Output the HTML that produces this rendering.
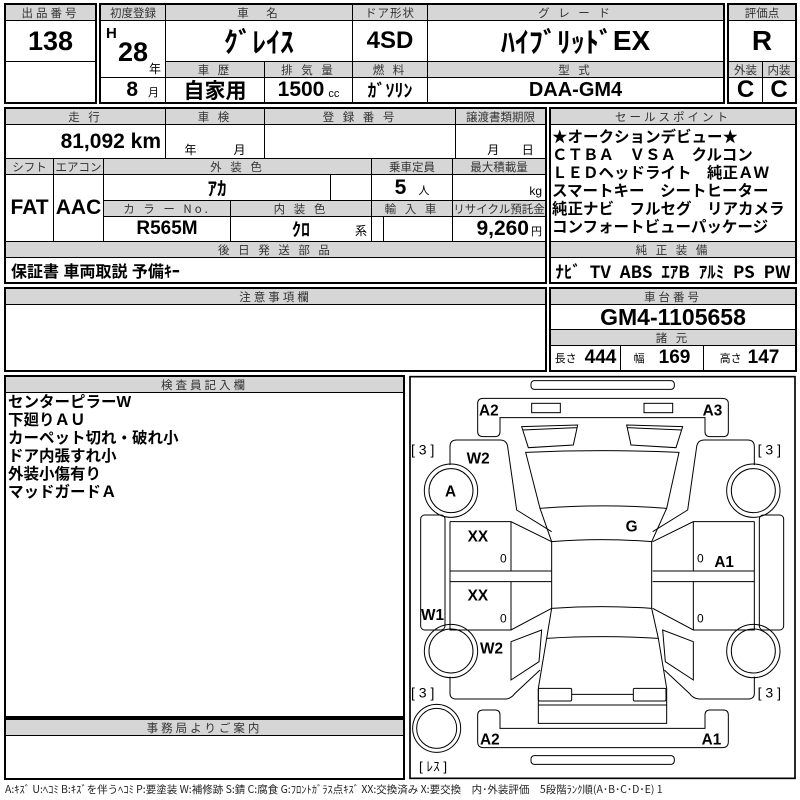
<!DOCTYPE html>
<html><head><meta charset="utf-8">
<style>
*{margin:0;padding:0;box-sizing:border-box}
body{width:800px;height:800px;background:#fff;position:relative;overflow:hidden;font-family:"Liberation Sans","Noto Sans CJK JP",sans-serif;color:#000}
.c{position:absolute;border:1px solid #000;display:flex;align-items:center;justify-content:center;white-space:nowrap;overflow:hidden}
.h{background:#d6d6d6;font-size:11.5px;letter-spacing:3px;color:#333;font-family:"Noto Sans CJK JP",sans-serif}
.v{font-family:"Liberation Sans Narrow","Liberation Sans","Noto Sans CJK JP",sans-serif;font-weight:bold;font-size:21px}
.j{font-family:"Noto Sans CJK JP",sans-serif;font-weight:bold}
.box{position:absolute;border:2px solid #000}
.t{position:absolute;white-space:nowrap;font-family:"Liberation Sans","Noto Sans CJK JP",sans-serif;font-weight:bold;font-size:15.5px;line-height:18px}
.s{font-size:11px;font-weight:normal;margin-left:4px;align-self:flex-end;margin-bottom:2px}
</style></head><body>

<div class="box" style="left:4px;top:3px;width:93px;height:101px"></div>
<div class="c h" style="left:5px;top:4px;width:91px;height:17px">出品番号</div>
<div class="c v" style="left:5px;top:20px;width:91px;height:42px;font-size:27px">138</div>
<div class="c" style="left:5px;top:61px;width:91px;height:42px"></div>

<div class="box" style="left:99px;top:3px;width:626px;height:101px"></div>
<div class="c h" style="left:100px;top:4px;width:66px;height:17px;letter-spacing:0">初度登録</div>
<div class="c h" style="left:165px;top:4px;width:188px;height:17px">車　名</div>
<div class="c h" style="left:352px;top:4px;width:76px;height:17px;letter-spacing:1px">ドア形状</div>
<div class="c h" style="left:427px;top:4px;width:297px;height:17px">グ レ ー ド</div>
<div class="c v" style="left:100px;top:20px;width:66px;height:58px"><span style="position:absolute;left:5px;top:4px;font-size:15px">H</span><span style="font-size:27px;margin-top:6px">28</span><span style="position:absolute;right:4px;bottom:0;font-size:12px;font-weight:normal">年</span></div>
<div class="c v" style="left:100px;top:77px;width:66px;height:26px;justify-content:flex-end;padding-right:6px">8<span class="s" style="margin-left:10px">月</span></div>
<div class="c j" style="left:165px;top:20px;width:188px;height:42px;font-size:28px">ｸﾞﾚｲｽ</div>
<div class="c v" style="left:352px;top:20px;width:76px;height:42px;font-size:24px">4SD</div>
<div class="c j" style="left:427px;top:20px;width:297px;height:42px;font-size:28px">ﾊｲﾌﾞﾘｯﾄﾞ<span style="font-family:'Liberation Sans',sans-serif">EX</span></div>
<div class="c h" style="left:165px;top:61px;width:100px;height:17px">車 歴</div>
<div class="c h" style="left:264px;top:61px;width:89px;height:17px">排 気 量</div>
<div class="c h" style="left:352px;top:61px;width:76px;height:17px">燃 料</div>
<div class="c h" style="left:427px;top:61px;width:297px;height:17px">型 式</div>
<div class="c" style="left:165px;top:77px;width:100px;height:26px;font-size:21px;font-family:'Noto Sans CJK JP',sans-serif;font-weight:bold">自家用</div>
<div class="c v" style="left:264px;top:77px;width:89px;height:26px">1500<span class="s">cc</span></div>
<div class="c j" style="left:352px;top:77px;width:76px;height:26px;font-size:18px">ｶﾞｿﾘﾝ</div>
<div class="c v" style="left:427px;top:77px;width:297px;height:26px;font-size:20px">DAA-GM4</div>

<div class="box" style="left:727px;top:3px;width:70px;height:101px"></div>
<div class="c h" style="left:728px;top:4px;width:68px;height:17px;letter-spacing:0">評価点</div>
<div class="c v" style="left:728px;top:20px;width:68px;height:42px;font-size:28px">R</div>
<div class="c h" style="left:728px;top:61px;width:35px;height:17px;letter-spacing:0">外装</div>
<div class="c h" style="left:762px;top:61px;width:34px;height:17px;letter-spacing:0">内装</div>
<div class="c v" style="left:728px;top:77px;width:35px;height:26px;font-size:24px">C</div>
<div class="c v" style="left:762px;top:77px;width:34px;height:26px;font-size:24px">C</div>

<div class="box" style="left:4px;top:107px;width:543px;height:177px"></div>
<div class="c h" style="left:5px;top:108px;width:161px;height:17px">走 行</div>
<div class="c h" style="left:165px;top:108px;width:100px;height:17px">車 検</div>
<div class="c h" style="left:264px;top:108px;width:192px;height:17px">登 録 番 号</div>
<div class="c h" style="left:455px;top:108px;width:91px;height:17px;letter-spacing:0">譲渡書類期限</div>
<div class="c v" style="left:5px;top:124px;width:161px;height:35px;justify-content:flex-end;padding-right:4px">81,092 km</div>
<div class="c" style="left:165px;top:124px;width:100px;height:35px;font-size:12px;align-items:flex-end;justify-content:space-around">年<span>月</span></div>
<div class="c" style="left:264px;top:124px;width:192px;height:35px"></div>
<div class="c" style="left:455px;top:124px;width:91px;height:35px;font-size:12px;align-items:flex-end;justify-content:space-around;padding-left:20px">月<span>日</span></div>
<div class="c h" style="left:5px;top:158px;width:49px;height:17px;letter-spacing:0">シフト</div>
<div class="c h" style="left:53px;top:158px;width:51px;height:17px;letter-spacing:0">エアコン</div>
<div class="c h" style="left:103px;top:158px;width:269px;height:17px">外 装 色</div>
<div class="c h" style="left:371px;top:158px;width:82px;height:17px;letter-spacing:0">乗車定員</div>
<div class="c h" style="left:452px;top:158px;width:94px;height:17px;letter-spacing:0">最大積載量</div>
<div class="c v" style="left:5px;top:174px;width:49px;height:68px">FAT</div>
<div class="c v" style="left:53px;top:174px;width:51px;height:68px">AAC</div>
<div class="c j" style="left:103px;top:174px;width:228px;height:27px;font-size:19px">ｱｶ</div>
<div class="c" style="left:330px;top:174px;width:42px;height:27px"></div>
<div class="c v" style="left:371px;top:174px;width:82px;height:27px">5<span class="s" style="margin-left:12px">人</span></div>
<div class="c" style="left:452px;top:174px;width:94px;height:27px;justify-content:flex-end;align-items:flex-end;padding:0 3px 2px 0;font-size:12px">kg</div>
<div class="c h" style="left:103px;top:200px;width:128px;height:17px">カ ラ ー No.</div>
<div class="c h" style="left:230px;top:200px;width:142px;height:17px">内 装 色</div>
<div class="c h" style="left:371px;top:200px;width:82px;height:17px">輸 入 車</div>
<div class="c h" style="left:452px;top:200px;width:94px;height:17px;letter-spacing:0">リサイクル預託金</div>
<div class="c v" style="left:103px;top:216px;width:128px;height:26px;font-size:19px">R565M</div>
<div class="c j" style="left:230px;top:216px;width:142px;height:26px;font-size:18px">ｸﾛ<span style="position:absolute;right:4px;bottom:2px;font-size:12px;font-weight:normal">系</span></div>
<div class="c" style="left:371px;top:216px;width:13px;height:26px"></div>
<div class="c" style="left:383px;top:216px;width:70px;height:26px"></div>
<div class="c v" style="left:452px;top:216px;width:94px;height:26px;justify-content:flex-end;padding-right:3px">9,260<span class="s" style="margin-left:2px">円</span></div>
<div class="c h" style="left:5px;top:241px;width:541px;height:17px">後 日 発 送 部 品</div>
<div class="c" style="left:5px;top:257px;width:541px;height:26px;justify-content:flex-start;padding-left:5px;font-weight:bold;font-size:16px">保証書 車両取説 予備ｷｰ</div>

<div class="box" style="left:549px;top:107px;width:248px;height:177px"></div>
<div class="c h" style="left:550px;top:108px;width:246px;height:17px">セールスポイント</div>
<div class="c" style="left:550px;top:124px;width:246px;height:118px"></div>
<div class="t" style="left:552px;top:129px">★オークションデビュー★</div>
<div class="t" style="left:552px;top:147px">ＣＴＢＡ　ＶＳＡ　クルコン</div>
<div class="t" style="left:552px;top:165px">ＬＥＤヘッドライト　純正ＡＷ</div>
<div class="t" style="left:552px;top:183px">スマートキー　シートヒーター</div>
<div class="t" style="left:552px;top:201px">純正ナビ　フルセグ　リアカメラ</div>
<div class="t" style="left:552px;top:219px">コンフォートビューパッケージ</div>
<div class="c h" style="left:550px;top:241px;width:246px;height:17px">純 正 装 備</div>
<div class="c j" style="left:550px;top:257px;width:246px;height:26px;font-size:17px;justify-content:space-around">ﾅﾋﾞ<span>TV</span><span>ABS</span><span>ｴｱB</span><span>ｱﾙﾐ</span><span>PS</span><span>PW</span></div>

<div class="box" style="left:4px;top:287px;width:543px;height:85px"></div>
<div class="c h" style="left:5px;top:288px;width:541px;height:17px">注意事項欄</div>
<div class="box" style="left:549px;top:287px;width:248px;height:85px"></div>
<div class="c h" style="left:550px;top:288px;width:246px;height:17px">車台番号</div>
<div class="c v" style="left:550px;top:304px;width:246px;height:26px;font-size:23px">GM4-1105658</div>
<div class="c h" style="left:550px;top:329px;width:246px;height:17px">諸 元</div>
<div class="c v" style="left:550px;top:345px;width:71px;height:26px;font-size:19px"><span style="font-size:11px;font-weight:normal;margin-right:8px">長さ</span>444</div>
<div class="c v" style="left:620px;top:345px;width:84px;height:26px;font-size:19px"><span style="font-size:11px;font-weight:normal;margin-right:14px">幅</span>169</div>
<div class="c v" style="left:703px;top:345px;width:93px;height:26px;font-size:19px"><span style="font-size:11px;font-weight:normal;margin-right:6px">高さ</span>147</div>

<div class="box" style="left:4px;top:375px;width:401px;height:343px"></div>
<div class="c h" style="left:5px;top:376px;width:399px;height:17px">検査員記入欄</div>
<div class="t" style="left:8px;top:394px">センターピラーW</div>
<div class="t" style="left:8px;top:412px">下廻りＡＵ</div>
<div class="t" style="left:8px;top:430px">カーペット切れ・破れ小</div>
<div class="t" style="left:8px;top:448px">ドア内張すれ小</div>
<div class="t" style="left:8px;top:466px">外装小傷有り</div>
<div class="t" style="left:8px;top:484px">マッドガードＡ</div>

<div class="box" style="left:4px;top:718px;width:401px;height:62px"></div>
<div class="c h" style="left:5px;top:719px;width:399px;height:17px">事務局よりご案内</div>

<svg style="position:absolute;left:405px;top:375px" width="395" height="410" viewBox="0 0 1185 1230">
<g fill="none" stroke="#000" stroke-width="3">
<rect x="15" y="5" width="1155" height="1205" stroke-width="5"/>
<g id="L">
<rect x="47" y="420" width="73" height="345" rx="12"/>
<circle cx="138" cy="347" r="80"/><circle cx="138" cy="347" r="66"/>
<circle cx="138" cy="828" r="80"/><circle cx="138" cy="828" r="66"/>
<path d="M135,270 L135,215 Q135,195 155,195 L285,195 Q305,195 308,215 L335,405 L440,470"/>
<path d="M135,440 L318,440 L440,500 M318,440 L318,588 M135,440 L135,765 L318,765 L440,700 M135,588 L440,588 M135,620 L440,620 M318,620 L318,765"/>
<path d="M318,800 L410,765 L402,860 L318,915 Z"/>
<path d="M135,905 L135,955 Q135,972 155,972 L300,972 Q318,972 330,955 L405,885"/>
<path d="M350,155 L518,150 L505,210 L370,218 Z M352,165 L516,158"/>
<rect x="380" y="85" width="86" height="28"/>
</g>
<use href="#L" transform="translate(1183,0) scale(-1,1)"/>
<rect x="378" y="17" width="430" height="26" rx="10"/>
<rect x="378" y="1142" width="430" height="26" rx="10"/>
<path d="M218,85 Q218,70 235,70 L950,70 Q970,70 970,85 L970,170 Q970,185 955,185 L915,185 Q900,185 900,170 L900,128 L285,128 L285,170 Q285,185 270,185 L235,185 Q218,185 218,170 Z"/>
<path d="M218,1020 Q218,1005 235,1005 L270,1005 Q285,1005 285,1020 L285,1060 L900,1060 L900,1020 Q900,1005 915,1005 L955,1005 Q970,1005 970,1020 L970,1100 Q970,1118 952,1118 L235,1118 Q218,1118 218,1100 Z"/>
<path d="M362,232 Q592,222 822,232 L785,400 Q592,385 405,400 Z"/>
<path d="M405,400 L440,500 Q590,488 740,500 L785,400"/>
<path d="M440,500 L440,700 M740,500 L740,700"/>
<path d="M440,700 Q590,690 740,700 L760,790 Q590,780 425,790 Z"/>
<path d="M425,790 L400,940 L400,1045 L785,1045 L785,940 L760,790 M400,990 L785,990"/>
<rect x="400" y="940" width="100" height="38" rx="4"/>
<rect x="685" y="940" width="98" height="38" rx="4"/>
<path d="M500,958 L685,958"/>
<circle cx="95" cy="1060" r="72"/><circle cx="95" cy="1060" r="60"/>
</g>
<g font-family="'Liberation Sans Narrow','Liberation Sans',sans-serif" font-weight="bold" font-size="46" fill="#000">
<text x="222" y="122">A2</text>
<text x="893" y="122">A3</text>
<text x="185" y="265">W2</text>
<text x="120" y="365">A</text>
<text x="662" y="470">G</text>
<text x="188" y="500">XX</text>
<text x="188" y="676">XX</text>
<text x="928" y="576">A1</text>
<text x="48" y="735">W1</text>
<text x="225" y="836">W2</text>
<text x="225" y="1108">A2</text>
<text x="890" y="1108">A1</text>
</g>
<g font-family="'Liberation Sans','Noto Sans CJK JP',sans-serif" font-size="36" fill="#000">
<text x="285" y="562">0</text><text x="285" y="742">0</text>
<text x="876" y="562">0</text><text x="876" y="742">0</text>
<text x="18" y="238" font-size="42" xml:space="preserve">[ 3 ]</text>
<text x="1058" y="238" font-size="42" xml:space="preserve">[ 3 ]</text>
<text x="18" y="968" font-size="42" xml:space="preserve">[ 3 ]</text>
<text x="1058" y="968" font-size="42" xml:space="preserve">[ 3 ]</text>
<text x="42" y="1188" font-size="40" xml:space="preserve">[ ﾚｽ ]</text>
</g>
</svg>

<div style="position:absolute;left:5px;top:782px;font-size:10.5px;white-space:nowrap;color:#222;font-family:'Noto Sans CJK JP',sans-serif">A:ｷｽﾞ U:ﾍｺﾐ B:ｷｽﾞを伴うﾍｺﾐ P:要塗装 W:補修跡 S:錆 C:腐食 G:ﾌﾛﾝﾄｶﾞﾗｽ点ｷｽﾞ XX:交換済み X:要交換　内･外装評価　5段階ﾗﾝｸ順(A･B･C･D･E) 1</div>
</body></html>
